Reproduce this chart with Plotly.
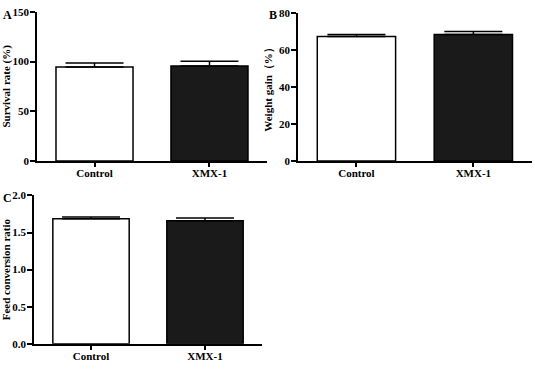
import plotly.graph_objects as go

categories = ["Control", "XMX-1"]
survival = [94.5, 95.5]
survival_err = [4.0, 4.8]
weight_gain = [67.3, 68.3]
weight_gain_err = [1.0, 1.7]
fcr = [1.687, 1.66]
fcr_err = [0.022, 0.035]

fill_colors = ["white", "#1a1a1a"]
FONT = "Liberation Serif"

fig = go.Figure()

panels = [
    ("x", "y", survival, survival_err),
    ("x2", "y2", weight_gain, weight_gain_err),
    ("x3", "y3", fcr, fcr_err),
]
for xa, ya, vals, errs in panels:
    fig.add_trace(go.Bar(
        x=categories, y=vals, xaxis=xa, yaxis=ya, width=0.67,
        marker=dict(color=fill_colors, line=dict(color="black", width=1.5)),
        error_y=dict(type="data", symmetric=False, array=errs,
                     arrayminus=[0] * len(errs), color="black",
                     thickness=1.5, width=29),
        showlegend=False, hoverinfo="skip",
    ))

tickfont = dict(family=FONT, size=11, color="black", weight="bold")
titlefont = dict(family=FONT, size=11, color="black", weight="bold")

def xax(domain, anchor):
    return dict(domain=domain, anchor=anchor, range=[-0.5, 1.5],
                showline=True, linecolor="black", linewidth=1.5,
                ticks="outside", ticklen=4, tickwidth=1.5, tickcolor="black",
                ticklabelstandoff=-3,
                tickfont=tickfont, showgrid=False, zeroline=False, fixedrange=True)

def yax(domain, anchor, rng, dtick, fmt, title, standoff):
    return dict(domain=domain, anchor=anchor, range=rng, dtick=dtick, tickformat=fmt,
                showline=True, linecolor="black", linewidth=1.5,
                ticks="outside", ticklen=5, tickwidth=1.5, tickcolor="black",
                ticklabelstandoff=-1,
                tickfont=tickfont, showgrid=False, zeroline=False, fixedrange=True,
                title=dict(text=title, font=titlefont, standoff=standoff))

label_font = dict(family=FONT, size=12, color="black", weight="bold")

fig.update_layout(
    width=535, height=374, autosize=False,
    margin=dict(l=0, r=0, t=0, b=0),
    paper_bgcolor="white", plot_bgcolor="white",
    bargap=0.33,
    xaxis=xax([0.0692, 0.499], "y"),
    yaxis=yax([0.572, 0.984], "x", [0, 150], 50, "d", "Survival rate (%)", 4),
    xaxis2=xax([0.557, 0.994], "y2"),
    yaxis2=yax([0.572, 0.981], "x2", [0, 80], 20, "d", "Weight gain（%）", 4),
    xaxis3=xax([0.0636, 0.4897], "y3"),
    yaxis3=yax([0.0668, 0.4767], "x3", [0, 2.0], 0.5, ".1f", "Feed conversion ratio", 4),
    annotations=[
        dict(text="A", x=1 / 535, y=1 - 9 / 374, xref="paper", yref="paper",
             xanchor="left", yanchor="middle", showarrow=False, font=label_font),
        dict(text="B", x=267 / 535, y=1 - 9 / 374, xref="paper", yref="paper",
             xanchor="left", yanchor="middle", showarrow=False, font=label_font),
        dict(text="C", x=1 / 535, y=1 - 198 / 374, xref="paper", yref="paper",
             xanchor="left", yanchor="middle", showarrow=False, font=label_font),
    ],
)

fig.write_html("out.html", config={"displayModeBar": False},
               post_script="document.body.style.margin='0';document.body.style.padding='0';")
